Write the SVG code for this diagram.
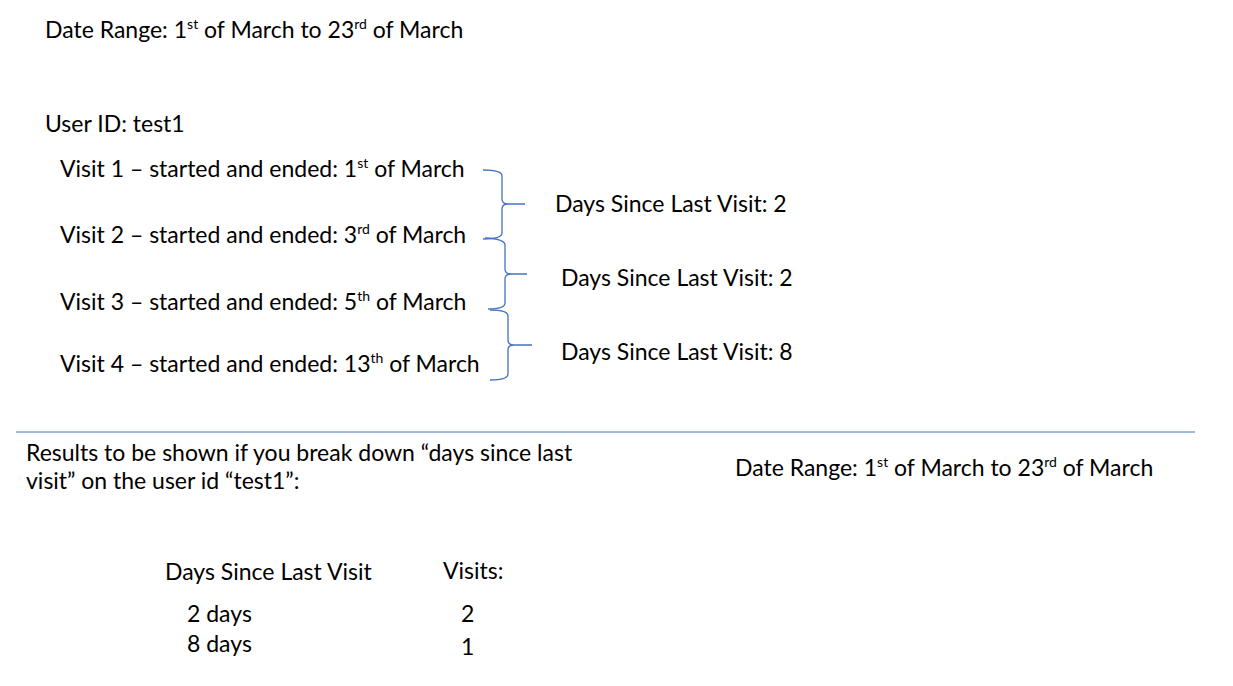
<svg xmlns="http://www.w3.org/2000/svg" width="1233" height="686" viewBox="0 0 1233 686">
<style>
text{font-family:Lato,"Liberation Sans",sans-serif;font-size:23px;fill:#000}
.sup{font-size:14px}
.br{fill:none;stroke:#4472C4;stroke-width:1.3}
</style>
<rect width="1233" height="686" fill="#fff"/>
<g id="date-range-top"><text x="45" y="38">Date Range: 1<tspan class="sup" dy="-9">st</tspan><tspan dy="9"> of March to 23</tspan><tspan class="sup" dy="-9">rd</tspan><tspan dy="9"> of March</tspan></text></g>
<g id="user-id"><text x="45" y="132">User ID: test1</text></g>
<g id="visit1"><text x="60" y="177">Visit 1 – started and ended: 1<tspan class="sup" dy="-9">st</tspan><tspan dy="9"> of March</tspan></text></g>
<g id="visit2"><text x="60" y="243">Visit 2 – started and ended: 3<tspan class="sup" dy="-9">rd</tspan><tspan dy="9"> of March</tspan></text></g>
<g id="visit3"><text x="60" y="310">Visit 3 – started and ended: 5<tspan class="sup" dy="-9">th</tspan><tspan dy="9"> of March</tspan></text></g>
<g id="visit4"><text x="60" y="372">Visit 4 – started and ended: 13<tspan class="sup" dy="-9">th</tspan><tspan dy="9"> of March</tspan></text></g>
<g id="days1"><text x="555" y="212">Days Since Last Visit: 2</text></g>
<g id="days2"><text x="561" y="286">Days Since Last Visit: 2</text></g>
<g id="days3"><text x="561" y="360">Days Since Last Visit: 8</text></g>
<g id="connectors">
<path class="br" d="M483,170 Q502,170 502,176 L502,199 Q502,204 508,204 L525,204 M508,204 Q502,204 502,209 L502,233 Q502,239 483,239"/>
<path class="br" d="M485,238 Q505,239 505,245 L505,269 Q505,274 511,274 L527,274 M511,274 Q505,274 505,279 L505,303 Q505,309 488,309"/>
<path class="br" d="M490,310 Q508,310 508,316 L508,340 Q508,345 514,345 L532,345 M514,345 Q508,345 508,350 L508,374 Q508,380 490,380"/>
<line x1="16" y1="432" x2="1195" y2="432" stroke="#4472C4" stroke-width="1"/>
</g>
<g id="results-title"><text x="26" y="461">Results to be shown if you break down “days since last</text><text x="26" y="489">visit” on the user id “test1”:</text></g>
<g id="date-range-bottom"><text x="735" y="476">Date Range: 1<tspan class="sup" dy="-9">st</tspan><tspan dy="9"> of March to 23</tspan><tspan class="sup" dy="-9">rd</tspan><tspan dy="9"> of March</tspan></text></g>
<g id="table">
<text x="165" y="580">Days Since Last Visit</text>
<text x="443" y="579">Visits:</text>
<text x="187" y="622">2 days</text>
<text x="187" y="652">8 days</text>
<text x="461" y="622">2</text>
<text x="461" y="655">1</text>
</g>
</svg>
